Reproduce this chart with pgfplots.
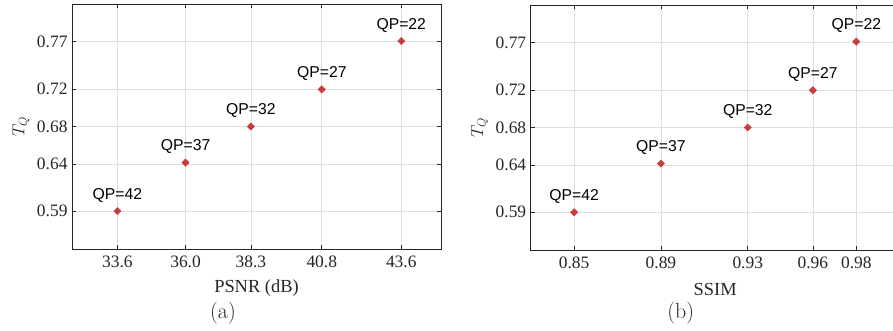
\documentclass[border=0pt]{standalone}
\usepackage{fontspec}
\usepackage{pgfplots}
\pgfplotsset{compat=1.18}
\newfontfamily\tnr{Liberation Serif}
\newfontfamily\arial{Liberation Sans}
\definecolor{axgray}{RGB}{38,38,38}
\definecolor{gridgray}{RGB}{222,222,222}
\definecolor{mred}{RGB}{200,62,62}
\pgfplotsset{
  myax/.style={
    scale only axis, width=369bp, height=245bp,
    anchor=south west,
    ymin=0.55, ymax=0.81,
    ytick={0.59,0.64,0.68,0.72,0.77},
    yticklabels={0.59,0.64,0.68,0.72,0.77},
    grid=major,
    major grid style={gridgray, line width=0.6pt},
    axis line style={axgray, line width=0.8pt},
    major tick style={axgray, line width=0.6pt},
    major tick length=4bp,
    tick align=inside,
    /pgf/number format/assume math mode=true,
    tick label style={font=\fontsize{17.5}{17.5}\tnr, text=axgray},
    yticklabel style={xshift=-1bp},
    xticklabel style={yshift=-3bp},
    xlabel style={font=\fontsize{18.5}{18.5}\tnr, text=axgray, at={(axis description cs:0.5,0)}, anchor=center, yshift=-39bp},
    ylabel style={font=\fontsize{17}{17}\selectfont, text=axgray, at={(axis description cs:0,0.5)}, anchor=center, yshift=51bp},
    ylabel={$T_Q$},
    point meta=explicit symbolic,
    nodes near coords,
    every node near coord/.append style={font=\fontsize{15.8}{15.8}\arial, text=black, anchor=base, yshift=11.7bp},
  },
  myplot/.style={only marks, mark=square*, mark size=2.6bp, mark options={rotate=45, fill=mred, draw=mred}},
}
\begin{document}
\begin{tikzpicture}
\path[use as bounding box] (0bp,0bp) rectangle (893bp,331bp);
\begin{axis}[myax, at={(72bp,82bp)},
  xmin=32, xmax=45,
  xtick={33.6,36.0,38.3,40.8,43.6},
  xticklabels={33.6,36.0,38.3,40.8,43.6},
  xlabel={PSNR (dB)}]
\addplot[myplot] table[meta=lab] {
x y lab
33.6 0.5902 QP=42
36.0 0.6417 QP=37
38.3 0.6800 QP=32
40.8 0.7194 QP=27
43.6 0.7707 QP=22
};
\end{axis}
\begin{axis}[myax, at={(530.7bp,81bp)},
  xmin=0.83, xmax=1.0,
  xtick={0.85,0.89,0.93,0.96,0.98},
  xticklabels={0.85,0.89,0.93,0.96,0.98},
  xlabel={SSIM}]
\addplot[myplot] table[meta=lab] {
x y lab
0.850 0.5901 QP=42
0.890 0.6417 QP=37
0.930 0.6800 QP=32
0.960 0.7195 QP=27
0.980 0.7711 QP=22
};
\end{axis}
\node[font=\fontsize{22}{22}\selectfont, text=axgray] at (223bp,18bp) {(a)};
\node[font=\fontsize{22}{22}\selectfont, text=axgray] at (680.7bp,18bp) {(b)};
\end{tikzpicture}
\end{document}
